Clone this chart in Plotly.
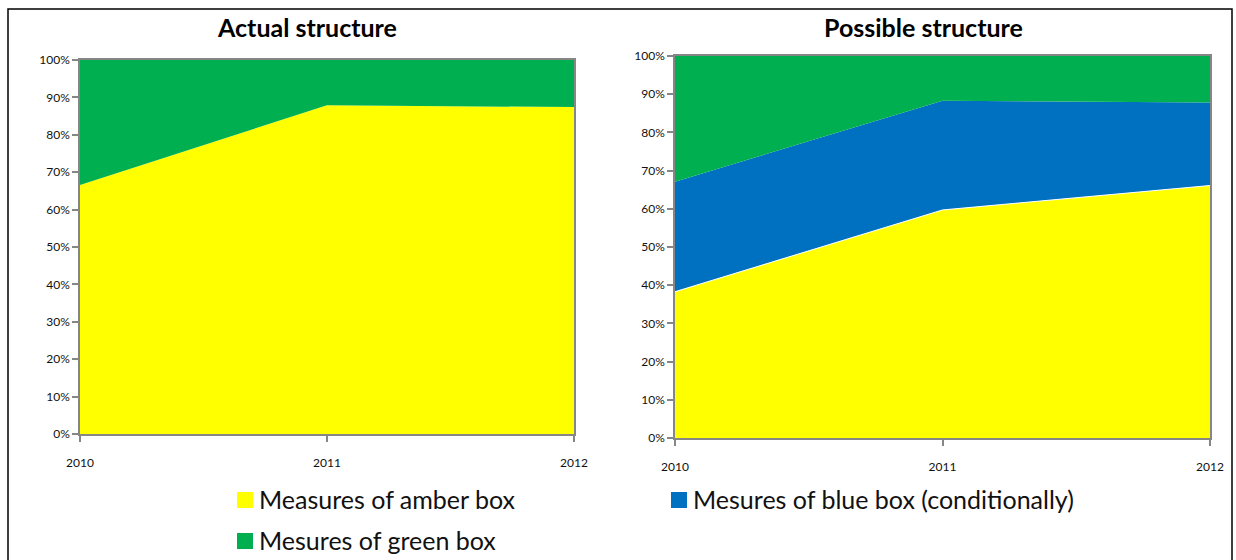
import plotly.graph_objects as go

# Data (shares, %)
years = [2010, 2011, 2012]
year_labels = ["2010", "2011", "2012"]
actual_amber = [66.6, 87.9, 87.4]
actual_green = [33.4, 12.1, 12.6]
possible_amber = [38.3, 59.7, 66.1]
possible_blue = [28.8, 28.6, 21.7]
possible_green = [32.9, 11.7, 12.2]

y_ticks = [0, 10, 20, 30, 40, 50, 60, 70, 80, 90, 100]
y_tick_labels = [f"{v}%" for v in y_ticks]

AMBER = "#FFFF00"
GREEN = "#00B050"
BLUE = "#0070C0"
AXIS = "#868686"
FONT = "Lato"

W, H = 1236, 560

fig = go.Figure()

def area(x, y, color, name, xa, ya, group, edge=None):
    fig.add_trace(go.Scatter(
        x=x, y=y, name=name, mode="lines", stackgroup=group,
        line=dict(width=1 if edge else 0, color=edge or color), fillcolor=color,
        xaxis=xa, yaxis=ya, showlegend=False, hoverinfo="x+y+name",
    ))

area(years, actual_amber, AMBER, "Measures of amber box", "x", "y", "left")
area(years, actual_green, GREEN, "Mesures of green box", "x", "y", "left")
area(years, possible_amber, AMBER, "Measures of amber box", "x2", "y2", "right", edge="white")
area(years, possible_blue, BLUE, "Mesures of blue box (conditionally)", "x2", "y2", "right")
area(years, possible_green, GREEN, "Mesures of green box", "x2", "y2", "right")

def px_x(p):
    return p / W

def px_y(p):
    return 1 - p / H

xaxis_common = dict(
    range=[2010, 2012], tickvals=years, ticktext=year_labels,
    showgrid=False, zeroline=False, showline=True, linecolor=AXIS, linewidth=1.5,
    mirror=True, ticks="outside", ticklen=6, tickcolor=AXIS, tickwidth=1.5,
    tickfont=dict(family=FONT, size=12, color="#111111"), automargin=False,
)
yaxis_common = dict(
    range=[0, 100], tickvals=y_ticks, ticktext=y_tick_labels,
    showgrid=False, zeroline=False, showline=True, linecolor=AXIS, linewidth=1.5,
    mirror=True, ticks="outside", ticklen=6, tickcolor=AXIS, tickwidth=1.5,
    tickfont=dict(family=FONT, size=12, color="#111111"), automargin=False,
)

fig.update_layout(
    width=W, height=H, autosize=False,
    margin=dict(l=0, r=0, t=0, b=0, pad=0, autoexpand=False),
    paper_bgcolor="white", plot_bgcolor="white",
    xaxis=dict(domain=[px_x(80), px_x(574)], anchor="y", **xaxis_common),
    yaxis=dict(domain=[px_y(434), px_y(60)], anchor="x", **yaxis_common),
    xaxis2=dict(domain=[px_x(675), px_x(1210)], anchor="y2", **xaxis_common),
    yaxis2=dict(domain=[px_y(438), px_y(56)], anchor="x2", **yaxis_common),
    showlegend=False,
)
fig.update_xaxes(ticklabelstandoff=11)

# Outer frame
fig.add_shape(type="rect", xref="paper", yref="paper",
              x0=px_x(8), x1=px_x(1232), y0=-0.1, y1=px_y(9),
              line=dict(color="black", width=1.5), fillcolor="rgba(0,0,0,0)", layer="below")

# Panel titles
for text, xc in [("Actual structure", 307), ("Possible structure", 923)]:
    fig.add_annotation(text=f"<b>{text}</b>", xref="paper", yref="paper",
                       x=px_x(xc), y=px_y(27), showarrow=False,
                       xanchor="center", yanchor="middle",
                       font=dict(family=FONT, size=25, color="black"))

# Legend entries
legend_items = [
    ("Measures of amber box", AMBER, 237, 500),
    ("Mesures of blue box (conditionally)", BLUE, 671, 500),
    ("Mesures of green box", GREEN, 237, 541),
]
for text, color, lx, ly in legend_items:
    fig.add_shape(type="rect", xref="paper", yref="paper",
                  x0=px_x(lx), x1=px_x(lx + 16), y0=px_y(ly + 8), y1=px_y(ly - 8),
                  line=dict(width=0), fillcolor=color)
    fig.add_annotation(text=text, xref="paper", yref="paper",
                       x=px_x(lx + 20), y=px_y(ly - 1), showarrow=False,
                       xanchor="left", yanchor="middle",
                       font=dict(family=FONT, size=25, color="#111111"))

page_style = (
    "document.documentElement.style.margin='0';"
    "document.documentElement.style.overflow='hidden';"
    "document.body.style.margin='0';"
    "document.body.style.overflow='hidden';"
)
fig.write_html("out.html", post_script=page_style, config={"displayModeBar": False})
